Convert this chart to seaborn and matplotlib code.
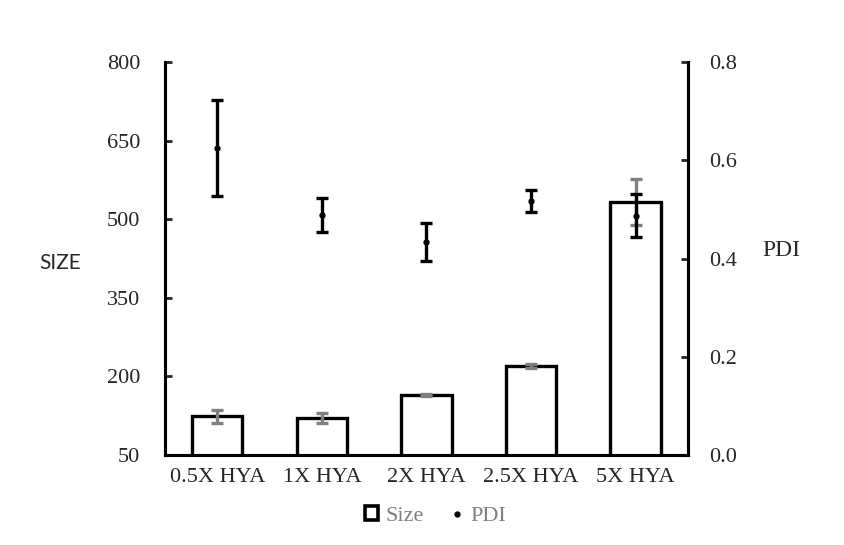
import numpy as np
import pandas as pd
import matplotlib
matplotlib.use("Agg")
import matplotlib.pyplot as plt
import seaborn as sns
from matplotlib.patches import Patch
from matplotlib.lines import Line2D

# data
groups = ["0.5X HYA", "1X HYA", "2X HYA", "2.5X HYA", "5X HYA"]
size_vals = [124, 121, 164, 220, 533]
size_err = [12, 9, 2, 3, 43]
pdi_vals = [0.625, 0.489, 0.434, 0.517, 0.487]
pdi_err = [0.097, 0.034, 0.039, 0.022, 0.044]

df = pd.DataFrame({"group": groups, "size": size_vals})

sns.set_style("white")
plt.rcParams["font.family"] = ["Liberation Serif", "DejaVu Serif"]

fig = plt.figure(figsize=(8.44, 5.45), dpi=100)
ax = fig.add_axes([0.1955, 0.165, 0.6195, 0.721])

sns.barplot(data=df, x="group", y="size", color="white", edgecolor="black",
            linewidth=2.4, width=0.48, ax=ax)
ax.errorbar(np.arange(len(groups)), size_vals, yerr=size_err, fmt="none",
            ecolor="#808080", elinewidth=2.4, capsize=4, capthick=2.4, zorder=5)

ax.set_ylim(50, 800)
ax.set_yticks([50, 200, 350, 500, 650, 800])
ax.set_xlim(-0.5, len(groups) - 0.5)
ax.set_xlabel("")
ax.set_ylabel("SIZE", fontsize=15, rotation=0, family="Lato")
ax.yaxis.set_label_coords(-0.2, 0.49)
ax.yaxis.label.set_verticalalignment("center")
ax.yaxis.label.set_horizontalalignment("center")
ax.tick_params(axis="y", direction="in", length=5, width=2, labelsize=16, pad=18, left=True)
ax.tick_params(axis="x", length=0, labelsize=16, pad=9)

ax2 = ax.twinx()
ax2.errorbar(np.arange(len(groups)), pdi_vals, yerr=pdi_err, fmt="o", color="black",
             markersize=3.5, ecolor="black", elinewidth=2.4, capsize=4, capthick=2.4)
ax2.set_ylim(0, 0.8)
ax2.set_yticks(np.arange(0, 0.81, 0.2))
ax2.set_yticklabels([f"{v:.1f}" for v in np.arange(0, 0.81, 0.2)])
ax2.set_ylabel("PDI", fontsize=17, rotation=0)
ax2.yaxis.set_label_coords(1.178, 0.52)
ax2.yaxis.label.set_verticalalignment("center")
ax2.yaxis.label.set_horizontalalignment("center")
ax2.tick_params(axis="y", direction="in", length=5, width=2, labelsize=16, pad=15, right=True)

for a in (ax, ax2):
    a.spines["top"].set_visible(False)
    for s in ("left", "right", "bottom"):
        a.spines[s].set_linewidth(2.2)
        a.spines[s].set_color("black")
    a.grid(False)

handles = [Patch(facecolor="white", edgecolor="black", linewidth=2.6),
           Line2D([], [], marker="o", color="black", linestyle="none", markersize=3.5)]
leg = fig.legend(handles, ["Size", "PDI"], loc="center", bbox_to_anchor=(0.516, 0.053),
                 ncol=2, frameon=False, fontsize=16, handlelength=0.6, handleheight=0.6,
                 handletextpad=0.3, columnspacing=1.2)
for t in leg.get_texts():
    t.set_color("#808080")

fig.savefig("out.png", dpi=100)
